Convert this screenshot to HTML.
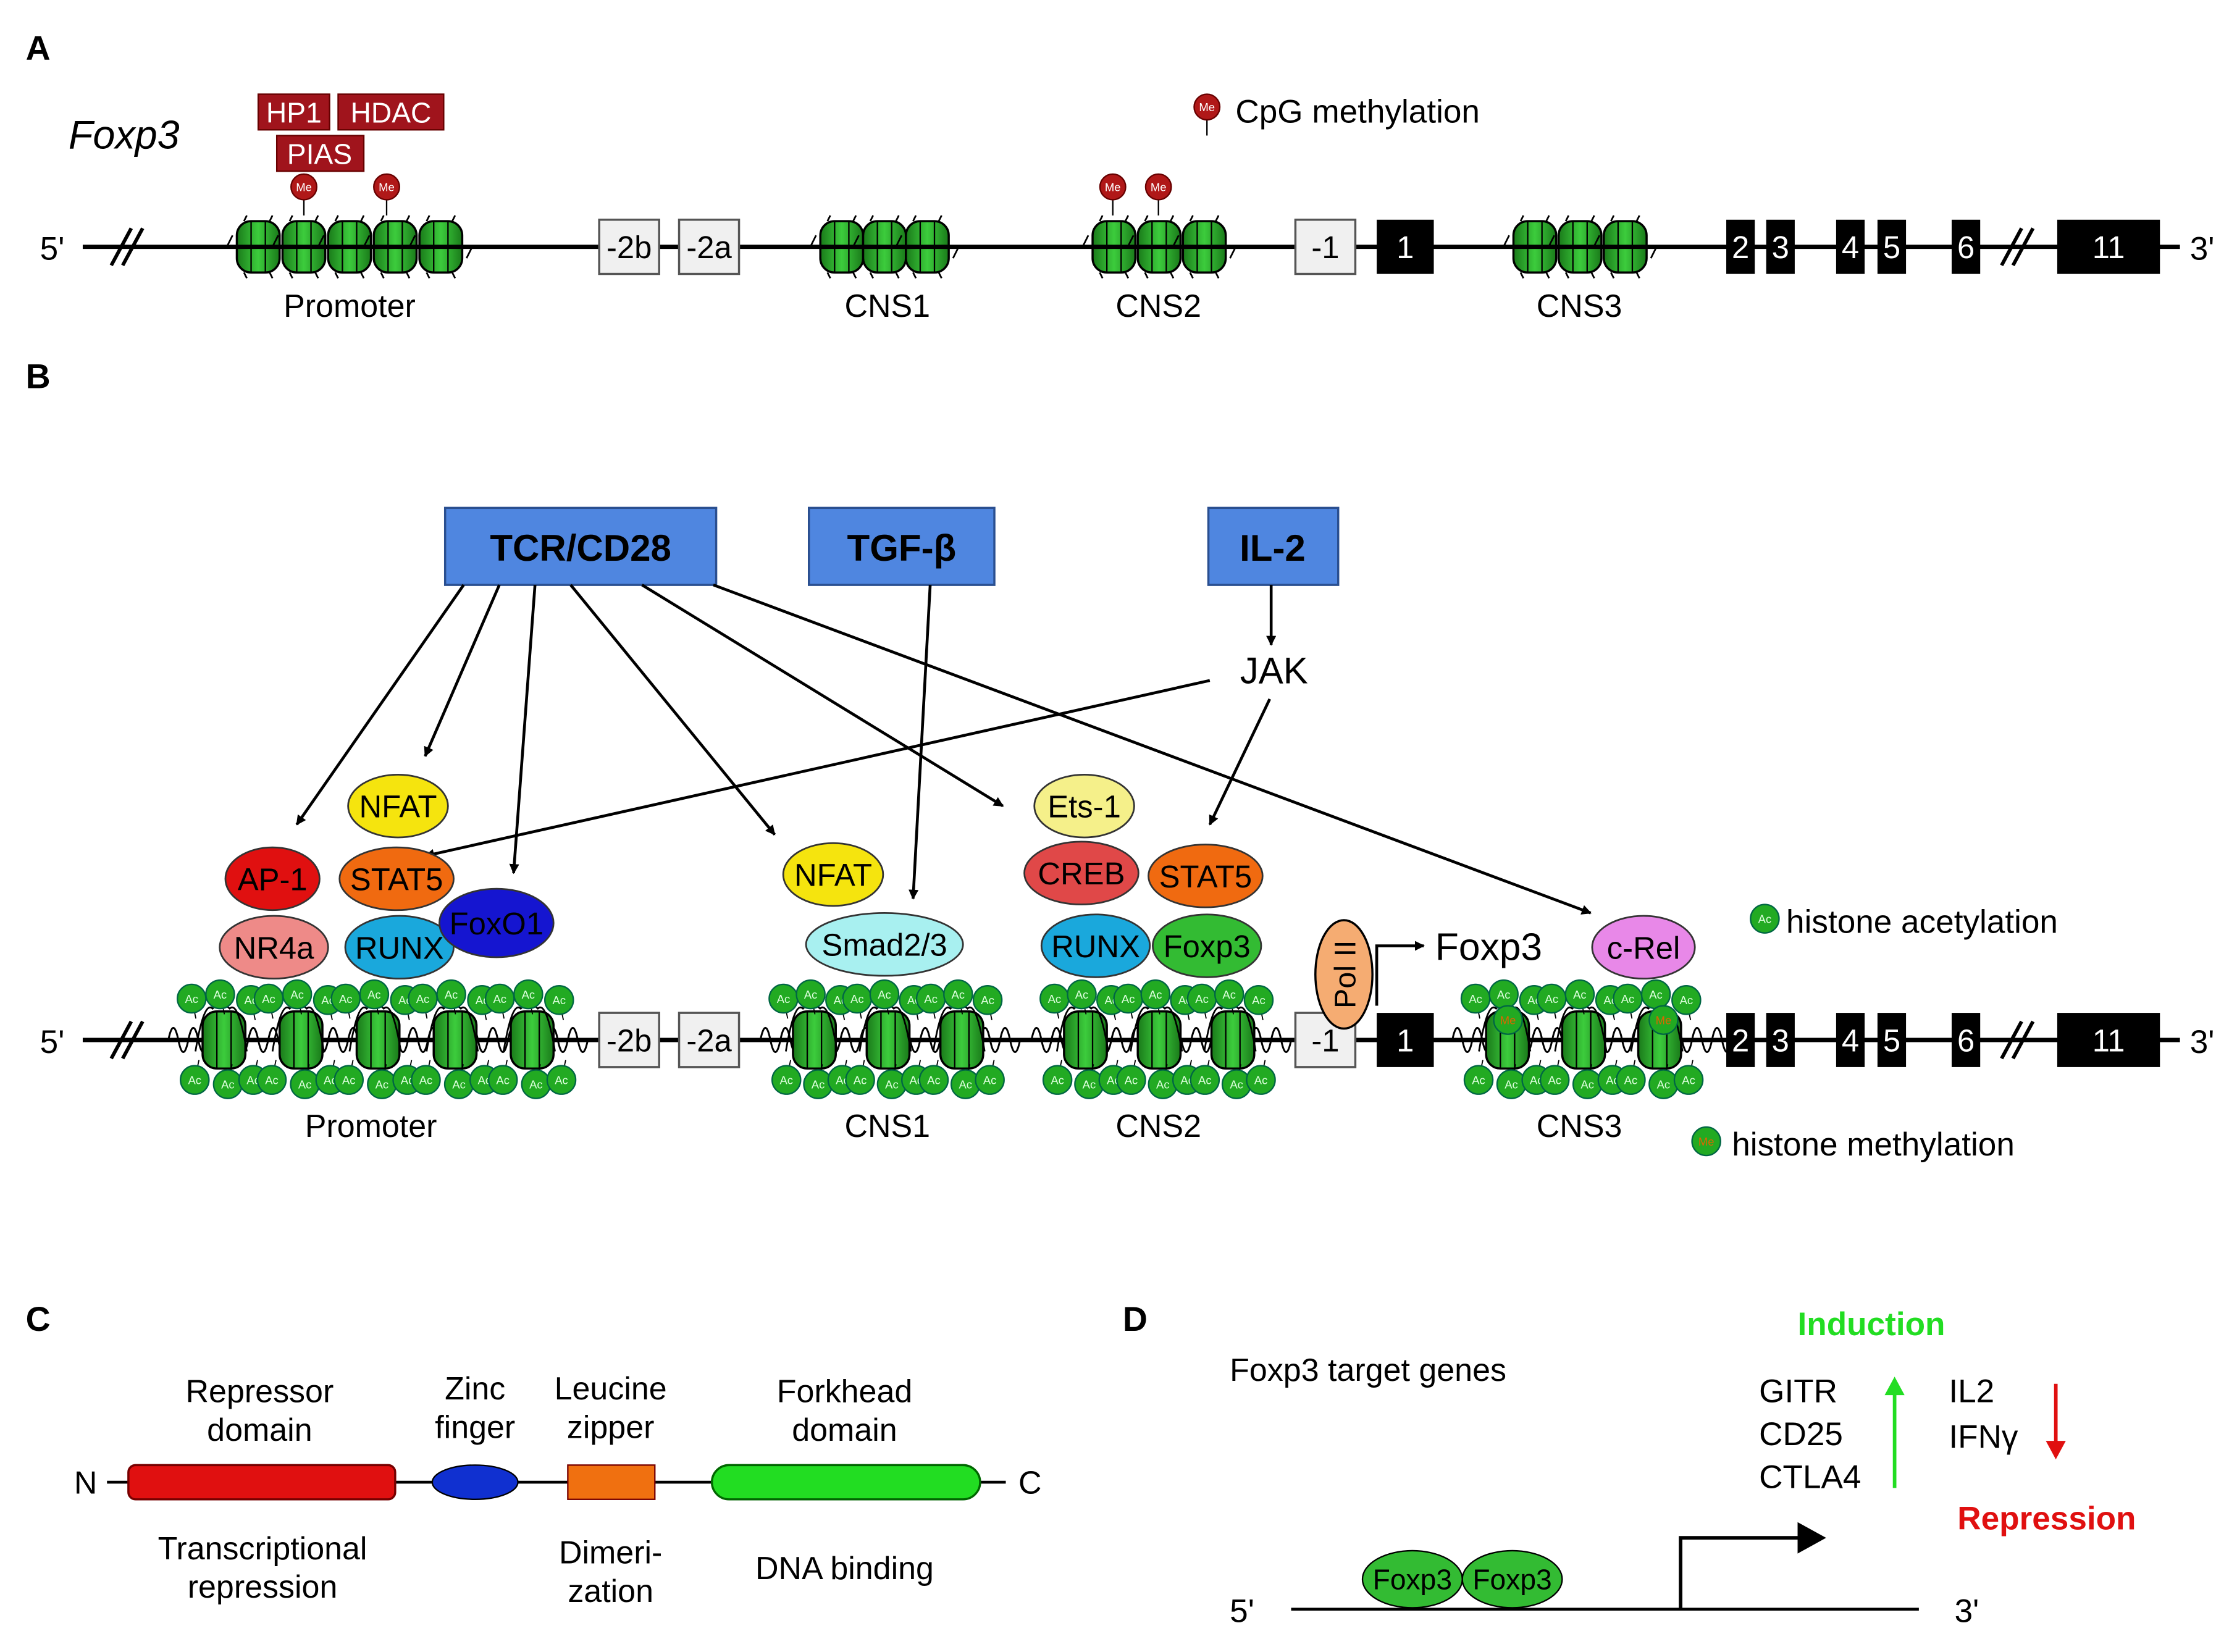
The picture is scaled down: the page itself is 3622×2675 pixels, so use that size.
<!DOCTYPE html>
<html><head><meta charset="utf-8"><style>
html,body{margin:0;padding:0;background:#fff}
svg{display:block}
text{font-family:"Liberation Sans",sans-serif}
</style></head><body>
<svg id="s" width="3622" height="2675" viewBox="0 0 1568 1158" xmlns="http://www.w3.org/2000/svg">
<defs>
<marker id="ah" viewBox="0 0 10 10" refX="9" refY="5" markerWidth="7" markerHeight="7" orient="auto" markerUnits="userSpaceOnUse"><path d="M0,0L10,5L0,10z" fill="#000"/></marker>
<marker id="ah2" viewBox="0 0 10 10" refX="9" refY="5" markerWidth="10" markerHeight="10" orient="auto" markerUnits="userSpaceOnUse"><path d="M0,0L10,5L0,10z" fill="#000"/></marker>
<linearGradient id="g" x1="0" x2="1"><stop offset="0" stop-color="#1a7a1a"/><stop offset="0.5" stop-color="#3ccc3c"/><stop offset="1" stop-color="#1a7a1a"/></linearGradient>
<g id="nuc"><rect x="-15" y="-20" width="30" height="40" rx="10" fill="url(#g)" stroke="#000" stroke-width="1.5"/><line x1="-5" y1="-20" x2="-5" y2="20" stroke="#000"/><line x1="5" y1="-20" x2="5" y2="20" stroke="#000"/><path d="M-20,8 Q-14,-28 -8,-22 Q-2,-28 4,-22 Q10,-28 16,8" fill="none" stroke="#000" stroke-width="1.2"/></g>
<g id="nucA"><rect x="-15" y="-18" width="30" height="36" rx="10" fill="url(#g)" stroke="#000" stroke-width="1.5"/><line x1="-5" y1="-18" x2="-5" y2="18" stroke="#000"/><line x1="5" y1="-18" x2="5" y2="18" stroke="#000"/><path d="M-18,-8 L-22,0 M18,8 L22,0 M-10,-18 L-8,-22 M8,-18 L10,-22 M-10,18 L-8,22 M8,18 L10,22" stroke="#000" stroke-width="1.2"/></g>
</defs>
<g id="dyn"></g>
<g font-size="22" fill="#000">
<text x="18" y="42" font-weight="bold" font-size="24">A</text>
<text x="18" y="272" font-weight="bold" font-size="24">B</text>
<text x="18" y="933" font-weight="bold" font-size="24">C</text>
<text x="787" y="933" font-weight="bold" font-size="24">D</text>
<text x="48" y="104" font-style="italic" font-size="28">Foxp3</text>
</g>
<line x1="58" y1="173" x2="1528" y2="173" stroke="#000" stroke-width="3"/>
<g stroke="#000" stroke-width="2.5"><line x1="78" y1="186" x2="92" y2="160"/><line x1="86" y1="186" x2="100" y2="160"/><line x1="1403" y1="186" x2="1417" y2="160"/><line x1="1411" y1="186" x2="1425" y2="160"/></g>
<g font-size="23"><text x="28" y="182">5'</text><text x="1535" y="182">3'</text></g>
<g id="boxesA"></g>
<g font-size="22.5" text-anchor="middle"><text x="245" y="222">Promoter</text><text x="622" y="222">CNS1</text><text x="812" y="222">CNS2</text><text x="1107" y="222">CNS3</text></g>
<g font-size="20" fill="#fff" text-anchor="middle">
<rect x="181" y="66" width="50" height="25" fill="#a0141c" stroke="#600"/><text x="206" y="86">HP1</text>
<rect x="237" y="66" width="74" height="25" fill="#a0141c" stroke="#600"/><text x="274" y="86">HDAC</text>
<rect x="194" y="95" width="61" height="25" fill="#a0141c" stroke="#600"/><text x="224" y="115">PIAS</text>
</g>
<text x="866" y="86" font-size="23">CpG methylation</text>
<line x1="58" y1="729" x2="1528" y2="729" stroke="#000" stroke-width="3"/>
<g stroke="#000" stroke-width="2.5"><line x1="78" y1="742" x2="92" y2="716"/><line x1="86" y1="742" x2="100" y2="716"/><line x1="1403" y1="742" x2="1417" y2="716"/><line x1="1411" y1="742" x2="1425" y2="716"/></g>
<g font-size="23"><text x="28" y="738">5'</text><text x="1535" y="738">3'</text></g>
<g font-size="22.5" text-anchor="middle"><text x="260" y="797">Promoter</text><text x="622" y="797">CNS1</text><text x="812" y="797">CNS2</text><text x="1107" y="797">CNS3</text></g>
<g font-size="26" font-weight="bold" text-anchor="middle">
<rect x="312" y="356" width="190" height="54" fill="#4f86e0" stroke="#2a4f90" stroke-width="1.5"/><text x="407" y="393">TCR/CD28</text>
<rect x="567" y="356" width="130" height="54" fill="#4f86e0" stroke="#2a4f90" stroke-width="1.5"/><text x="632" y="393">TGF-β</text>
<rect x="847" y="356" width="91" height="54" fill="#4f86e0" stroke="#2a4f90" stroke-width="1.5"/><text x="892" y="393">IL-2</text>
</g>
<text x="893" y="479" font-size="26" text-anchor="middle">JAK</text>
<g stroke="#000" stroke-width="2" marker-end="url(#ah)">
<line x1="325" y1="410" x2="208" y2="578"/><line x1="350" y1="410" x2="298" y2="530"/><line x1="375" y1="410" x2="360" y2="612"/><line x1="400" y1="410" x2="543" y2="585"/><line x1="450" y1="410" x2="703" y2="565"/><line x1="500" y1="410" x2="1115" y2="640"/>
<line x1="652" y1="410" x2="640" y2="630"/><line x1="891" y1="410" x2="891" y2="452"/><line x1="848" y1="477" x2="298" y2="600"/><line x1="890" y1="490" x2="848" y2="578"/>
</g>
<g id="tf" font-size="22" text-anchor="middle"></g>
<ellipse cx="942" cy="683" rx="20" ry="38" fill="#f5ac72" stroke="#000" stroke-width="1.5"/>
<text transform="translate(950,683) rotate(-90)" font-size="21" text-anchor="middle">Pol II</text>
<path d="M965,705 L965,663 L998,663" fill="none" stroke="#000" stroke-width="2" marker-end="url(#ah)"/>
<text x="1006" y="673" font-size="27">Foxp3</text>
<text x="1252" y="654" font-size="23">histone acetylation</text>
<text x="1214" y="810" font-size="23">histone methylation</text>
<line x1="75" y1="1039" x2="705" y2="1039" stroke="#000" stroke-width="2"/>
<rect x="90" y="1027" width="187" height="24" rx="5" fill="#e01010" stroke="#700" stroke-width="1.5"/>
<ellipse cx="333" cy="1039" rx="30" ry="12" fill="#1030d0" stroke="#000" stroke-width="1"/>
<rect x="398" y="1027" width="61" height="24" fill="#f07010" stroke="#700" stroke-width="1"/>
<rect x="499" y="1027" width="188" height="24" rx="12" fill="#22dd22" stroke="#060" stroke-width="1.5"/>
<g font-size="22.5" text-anchor="middle">
<text x="60" y="1047">N</text><text x="722" y="1047">C</text>
<text x="182" y="983">Repressor</text><text x="182" y="1010">domain</text>
<text x="333" y="981">Zinc</text><text x="333" y="1008">finger</text>
<text x="428" y="981">Leucine</text><text x="428" y="1008">zipper</text>
<text x="592" y="983">Forkhead</text><text x="592" y="1010">domain</text>
<text x="184" y="1093">Transcriptional</text><text x="184" y="1120">repression</text>
<text x="428" y="1096">Dimeri-</text><text x="428" y="1123">zation</text>
<text x="592" y="1107">DNA binding</text>
</g>
<text x="862" y="968" font-size="22.5">Foxp3 target genes</text>
<line x1="905" y1="1128" x2="1345" y2="1128" stroke="#000" stroke-width="2"/>
<text x="862" y="1137" font-size="23">5'</text><text x="1370" y="1137" font-size="23">3'</text>
<ellipse cx="990" cy="1107" rx="35" ry="20" fill="#33bb33" stroke="#000"/><ellipse cx="1060" cy="1107" rx="35" ry="20" fill="#33bb33" stroke="#000"/>
<g font-size="20" text-anchor="middle"><text x="990" y="1114">Foxp3</text><text x="1060" y="1114">Foxp3</text></g>
<path d="M1178,1128 L1178,1078 L1262,1078" fill="none" stroke="#000" stroke-width="2.5"/>
<path d="M1260,1067 L1280,1078 L1260,1089z"/>
<text x="1260" y="936" font-size="23" font-weight="bold" fill="#22dd22">Induction</text>
<text x="1372" y="1072" font-size="23" font-weight="bold" fill="#e01010">Repression</text>
<g font-size="23"><text x="1233" y="983">GITR</text><text x="1233" y="1013">CD25</text><text x="1233" y="1043">CTLA4</text><text x="1366" y="983">IL2</text><text x="1366" y="1015">IFNγ</text></g>
<line x1="1328" y1="1043" x2="1328" y2="975" stroke="#22dd22" stroke-width="2.5"/><path d="M1321,978 L1328,965 L1335,978z" fill="#22dd22"/>
<line x1="1441" y1="970" x2="1441" y2="1012" stroke="#e01010" stroke-width="2.5"/><path d="M1434,1010 L1441,1023 L1448,1010z" fill="#e01010"/>
</svg>
<script>
var NS="http://www.w3.org/2000/svg";
function el(p,t,a,txt){var e=document.createElementNS(NS,t);for(var k in a)e.setAttribute(k,a[k]);if(txt!==undefined)e.textContent=txt;p.appendChild(e);return e;}
var dyn=document.getElementById('dyn'), bx=document.getElementById('boxesA');
function groupA(x0,x1,n){for(var i=0;i<n;i++){var x=x0+(x1-x0)*(i+0.5)/n;el(dyn,'use',{href:'#nucA',x:x,y:173});}}
groupA(165,325,5);groupA(575,665,3);groupA(765,860,3);groupA(1060,1155,3);
function boxes(p,y){var wb=[[420,462,'-2b'],[476,518,'-2a'],[908,950,'-1']];
wb.forEach(function(b){el(p,'rect',{x:b[0],y:y-19,width:b[1]-b[0],height:38,fill:'#f0f0f0',stroke:'#555','stroke-width':1.5});el(p,'text',{x:(b[0]+b[1])/2,y:y+8,'font-size':22,'text-anchor':'middle'},b[2]);});
var bb=[[965,1005,'1'],[1210,1230,'2'],[1238,1258,'3'],[1287,1307,'4'],[1316,1336,'5'],[1368,1388,'6'],[1442,1514,'11']];
bb.forEach(function(b){el(p,'rect',{x:b[0],y:y-19,width:b[1]-b[0],height:38,fill:'#000'});el(p,'text',{x:(b[0]+b[1])/2,y:y+8,'font-size':22,'text-anchor':'middle',fill:'#fff'},b[2]);});}
boxes(bx,173);
function me(x,y){el(dyn,'line',{x1:x,y1:y,x2:x,y2:y+20,stroke:'#000'});el(dyn,'circle',{cx:x,cy:y,r:9,fill:'#b01818',stroke:'#600'});el(dyn,'text',{x:x,y:y+3,'font-size':8,fill:'#fff','text-anchor':'middle'},'Me');}
me(213,131);me(271,131);me(780,131);me(812,131);me(846,75);
var bg=document.createElementNS(NS,'g');document.getElementById('s').insertBefore(bg,document.getElementById('tf'));
function groupB(x0,x1,n,mes){
 var d='M'+(x0-12)+',729';for(var x=x0-12;x<x1+12;x+=14){d+=' Q'+(x+3.5)+',712 '+(x+7)+',729 Q'+(x+10.5)+',746 '+(x+14)+',729';}
 el(bg,'path',{d:d,fill:'none',stroke:'#000','stroke-width':1.3});
 var xs=[];for(var i=0;i<n;i++){var x=x0+(x1-x0)*(i+0.5)/n;xs.push(x);el(bg,'use',{href:'#nuc',x:x,y:729});}
 var pts=[];var step=(x1-x0)/n;
 xs.forEach(function(x,i){pts.push([x-step*0.42,700],[x-step*0.05,697],[x+step*0.35,701],[x-step*0.38,757],[x+step*0.05,760],[x+step*0.38,757]);});
 pts.forEach(function(p,i){el(bg,'line',{x1:p[0],y1:p[1],x2:p[0]+3,y2:p[1]<729?p[1]+14:p[1]-14,stroke:'#000','stroke-width':0.8});el(bg,'circle',{cx:p[0],cy:p[1],r:10,fill:'#22aa22',stroke:'#064','stroke-width':1});el(bg,'text',{x:p[0],y:p[1]+3,'font-size':8,fill:'#dfd','text-anchor':'middle'},'Ac');});
 (mes||[]).forEach(function(x){el(bg,'circle',{cx:x,cy:715,r:10,fill:'#22aa22',stroke:'#064'});el(bg,'text',{x:x,y:718,'font-size':8,fill:'#d60','text-anchor':'middle'},'Me');});
}
groupB(130,400,5);groupB(545,700,3);groupB(735,890,3);groupB(1030,1190,3,[1057,1166]);
var b2=document.createElementNS(NS,'g');document.getElementById('s').insertBefore(b2,document.getElementById('tf'));boxes(b2,729);
el(dyn,'circle',{cx:1237,cy:644,r:10,fill:'#22aa22',stroke:'#064'});el(dyn,'text',{x:1237,y:647,'font-size':8,fill:'#dfd','text-anchor':'middle'},'Ac');
el(dyn,'circle',{cx:1196,cy:800,r:10,fill:'#22aa22',stroke:'#064'});el(dyn,'text',{x:1196,y:803,'font-size':8,fill:'#d60','text-anchor':'middle'},'Me');
var tf=document.getElementById('tf');
[[279,565,35,22,'#f5e40e','NFAT'],[191,616,33,22,'#e01010','AP-1'],[278,616,40,22,'#f06a10','STAT5'],[192,664,38,22,'#ee8a88','NR4a'],[280,664,38,22,'#1aa8dc','RUNX'],[348,647,40,24,'#1515d0','FoxO1'],
[584,613,35,22,'#f5e40e','NFAT'],[620,662,55,22,'#a8f0f0','Smad2/3'],[760,565,35,22,'#f5f08a','Ets-1'],[758,612,40,22,'#e04848','CREB'],[845,614,40,22,'#f06a10','STAT5'],[768,663,38,22,'#1aa8dc','RUNX'],[846,663,38,22,'#33bb33','Foxp3'],[1152,664,36,22,'#e888e8','c-Rel']].forEach(function(t){
 el(tf,'ellipse',{cx:t[0],cy:t[1],rx:t[2],ry:t[3],fill:t[4],stroke:'#333','stroke-width':1.2});el(tf,'text',{x:t[0],y:t[1]+8},t[5]);});
</script>
</body></html>
